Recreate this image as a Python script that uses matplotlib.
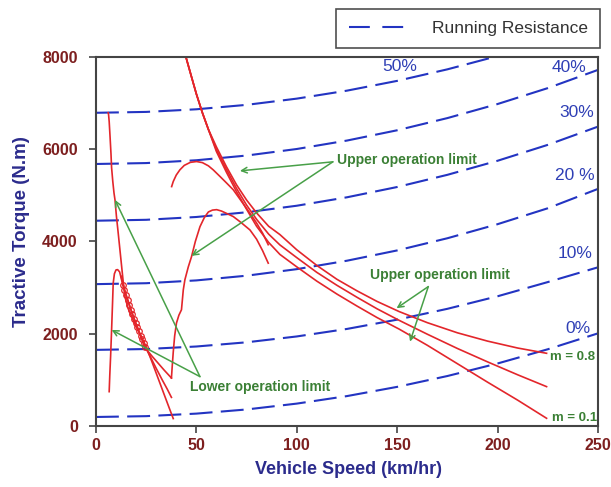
import matplotlib
matplotlib.use("Agg")
import matplotlib.pyplot as plt
from matplotlib.lines import Line2D

plt.rcParams['font.family'] = ['Liberation Sans', 'DejaVu Sans']

# running resistance for each road grade (N.m) against speed (km/hr)
spd = [0, 25, 50, 75, 100, 125, 150, 175, 200, 225, 250]
res_0 = [195, 213, 268, 358, 485, 648, 848, 1083, 1355, 1663, 2008]
res_10 = [1650, 1668, 1723, 1814, 1941, 2104, 2305, 2540, 2812, 3120, 3440]
res_20 = [3075, 3095, 3156, 3258, 3400, 3583, 3806, 4070, 4375, 4720, 5140]
res_30 = [4450, 4470, 4531, 4633, 4775, 4958, 5181, 5445, 5750, 6095, 6490]
res_40 = [5680, 5700, 5761, 5863, 6005, 6188, 6411, 6675, 6980, 7325, 7720]
res_50 = [6790, 6809, 6866, 6962, 7097, 7270, 7482, 7732, 8020, 8347, 8712]
grades = ['0%', '10%', '20 %', '30%', '40%', '50%']
# where the grade names sit (speed, torque)
grade_pos = [(239.8, 2104), (238.5, 3731), (238.5, 5423), (239.4, 6800), (235.6, 7777), (151.1, 7787)]

# lower operation limit curves
low_a_v = [6.1, 6.3, 6.6, 7.0, 7.5, 7.8, 8.4, 9.0, 9.5, 10.2, 11.1, 12.0, 12.8, 13.6, 14.4, 16, 18, 20, 22.5, 25, 28, 31, 34, 36.5, 38.5]
low_a_t = [6790, 6750, 6600, 6300, 5900, 5600, 5300, 5050, 4900, 4550, 4180, 3800, 3460, 3120, 2810, 2550, 2350, 2150, 1950, 1720, 1380, 1030, 680, 390, 160]
low_b_v = [6.6, 6.9, 7.3, 7.8, 8.3, 8.6, 9.2, 10.0, 10.8, 11.8, 12.6, 13.4, 14.2, 15.0, 15.8, 16.6, 17.4, 18.2, 19.0,
           19.8, 20.6, 21.4, 22.2, 23.0, 23.8, 24.6, 27, 30, 33, 35.5, 37.6]
low_b_t = [744, 1100, 1500, 2080, 2700, 3095, 3300, 3384, 3390, 3340, 3200, 3050, 2940, 2830, 2725, 2620, 2520, 2420, 2325,
           2230, 2140, 2050, 1960, 1875, 1790, 1710, 1510, 1250, 1000, 800, 620]
low_c_v = [12.5, 15, 18, 21, 24.4, 28, 31, 34, 37.6]
low_c_t = [3250, 2850, 2450, 2100, 1700, 1510, 1360, 1210, 1040]

# upper operation limit: pull-out humps
hump1_v = [37.7, 38.5, 40, 41.8, 44, 47, 50.1, 53, 56, 58.4, 62, 65, 68.4, 72, 76.7, 80, 83, 85.8]
hump1_t = [5190, 5300, 5440, 5553, 5650, 5715, 5733, 5710, 5640, 5553, 5400, 5270, 5120, 4900, 4613, 4400, 4180, 3930]
hump2_v = [37.6, 38.0, 38.5, 39.2, 40.1, 41.3, 42.6, 43.5, 44.3, 46, 47.6, 49.5, 51.8, 54, 56, 58, 60.1, 62.5, 65, 68.4,
           72, 76.7, 80, 83, 85.8]
hump2_t = [1040, 1300, 1600, 1950, 2230, 2400, 2520, 2950, 3170, 3450, 3670, 4000, 4320, 4520, 4640, 4680, 4690, 4660,
           4610, 4540, 4420, 4250, 4050, 3800, 3530]

# upper operation limit: constant power curves, m = 0.8 / mid / 0.1
pw_v = [44.8, 47, 50, 53, 56, 60, 65, 70, 75, 80, 86, 91.6, 100, 110, 120, 130, 140, 151, 165, 180, 195, 210, 224.4]
pw_08 = [8000, 7660, 7200, 6792, 6430, 6050, 5620, 5230, 4900, 4620, 4330, 4150, 3820, 3480, 3180, 2930, 2700, 2480,
         2240, 2020, 1840, 1690, 1576]
pw_mid = [8000, 7660, 7200, 6792, 6430, 5990, 5560, 5150, 4790, 4480, 4160, 3926, 3650, 3330, 3050, 2790, 2540, 2290,
          1990, 1680, 1390, 1110, 853]
pw_01 = [8000, 7660, 7200, 6792, 6430, 5950, 5500, 5080, 4700, 4330, 3980, 3720, 3450, 3140, 2860, 2600, 2350, 2100,
         1750, 1350, 950, 560, 167]

blue = '#2334c2'
red = '#e3262b'
green_txt = '#3b8035'
green_arw = '#48a048'

fig = plt.figure(figsize=(6.11, 4.87), dpi=100)
ax = fig.add_axes([0.157, 0.1253, 0.8217, 0.7577])

for r in [res_0, res_10, res_20, res_30, res_40, res_50]:
    ax.plot(spd, r, color=blue, lw=1.5, dashes=(11, 4))
for g, (gx, gy) in zip(grades, grade_pos):
    ax.text(gx, gy, g, color='#2f3fb5', fontsize=12.5, ha='center', va='center')

ax.plot(low_a_v, low_a_t, color=red, lw=1.2)
ax.plot(low_b_v, low_b_t, color=red, lw=1.2)
ax.plot(low_b_v[11:26], low_b_t[11:26], 'o', color=red, ms=4, mfc='none', mew=0.9)
ax.plot(low_c_v, low_c_t, color=red, lw=1.2)
ax.plot(hump1_v, hump1_t, color=red, lw=1.2)
ax.plot(hump2_v, hump2_t, color=red, lw=1.2)
for t in [pw_08, pw_mid, pw_01]:
    ax.plot(pw_v, t, color=red, lw=1.2)

ax.text(226.1, 1497, 'm = 0.8', color=green_txt, fontsize=9.5, fontweight='bold', va='center')
ax.text(227, 174, 'm = 0.1', color=green_txt, fontsize=9.5, fontweight='bold', va='center')

# operation limit callouts
arw = dict(arrowstyle='->', color=green_arw, lw=1.1, shrinkA=0, shrinkB=0)
ax.text(120.0, 5770, 'Upper operation limit', color=green_txt, fontsize=10, fontweight='bold', va='center')
ax.annotate('', xy=(71.7, 5531), xytext=(118.0, 5727), arrowprops=arw)
ax.annotate('', xy=(47.6, 3688), xytext=(118.0, 5727), arrowprops=arw)
ax.text(136.5, 3275, 'Upper operation limit', color=green_txt, fontsize=10, fontweight='bold', va='center')
ax.annotate('', xy=(149.7, 2553), xytext=(165.5, 3022), arrowprops=arw)
ax.annotate('', xy=(156.4, 1829), xytext=(165.5, 3022), arrowprops=arw)
ax.text(46.8, 846, 'Lower operation limit', color=green_txt, fontsize=10, fontweight='bold', va='center')
ax.annotate('', xy=(9.5, 4902), xytext=(51.8, 1070), arrowprops=arw)
ax.annotate('', xy=(7.8, 2082), xytext=(51.8, 1070), arrowprops=arw)

ax.set_xlim(0, 250)
ax.set_ylim(0, 8000)
ax.set_xticks([0, 50, 100, 150, 200, 250])
ax.set_yticks([0, 2000, 4000, 6000, 8000])
ax.tick_params(direction='out', length=5, width=1.2, color='#444444', labelcolor='#7d1f1f', labelsize=11.5)
ax.tick_params(axis='y', pad=8)
for lab in ax.get_xticklabels() + ax.get_yticklabels():
    lab.set_fontweight('bold')
for s in ax.spines.values():
    s.set_color('#444444')
    s.set_linewidth(1.5)

ax.set_xlabel('Vehicle Speed (km/hr)', color='#2b2b8c', fontsize=13, fontweight='bold')
ax.set_ylabel('Tractive Torque (N.m)', color='#2b2b8c', fontsize=13.5, fontweight='bold')
ax.xaxis.set_label_coords(0.504, -0.095)
ax.yaxis.set_label_coords(-0.131, 0.528)

# legend sample drawn as two long dashes
handle = Line2D([], [], color=blue, lw=1.5, dashes=(10, 6))
leg = fig.legend([handle], ['Running Resistance'], loc='upper right', bbox_to_anchor=(0.982, 0.9815),
                 fontsize=12.5, frameon=True, fancybox=False, borderpad=0.7, handlelength=3.4,
                 handletextpad=1.4, borderaxespad=0)
leg.get_frame().set_edgecolor('#222222')
leg.get_frame().set_linewidth(1.2)
for txt in leg.get_texts():
    txt.set_color('#333333')

fig.savefig('out.png', dpi=100)
